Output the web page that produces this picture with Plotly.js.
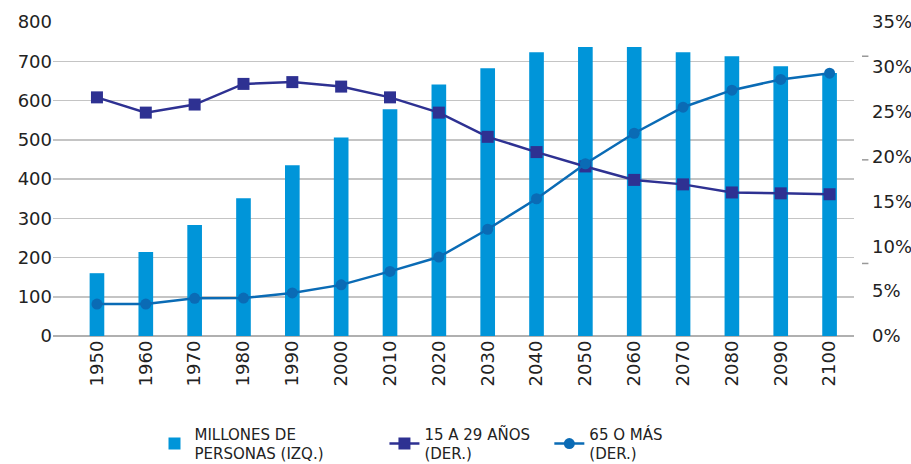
<!DOCTYPE html>
<html>
<head>
<meta charset="utf-8">
<script src="https://cdn.plot.ly/plotly-3.0.1.min.js"></script>
<style>html,body{margin:0;padding:0;background:#fff;}#chart{width:911px;height:464px;}</style>
</head>
<body>
<div id="chart"></div>
<script>
const years = ["1950","1960","1970","1980","1990","2000","2010","2020","2030","2040","2050","2060","2070","2080","2090","2100"];
const poblacion = [160, 214, 283, 351, 435, 506, 578, 641, 682, 723, 736, 736, 723, 713, 687, 670];
const jovenes = [26.6, 24.9, 25.8, 28.1, 28.3, 27.8, 26.6, 24.9, 22.2, 20.5, 18.9, 17.4, 16.9, 16.0, 15.9, 15.8];
const mayores = [3.56, 3.56, 4.2, 4.23, 4.8, 5.7, 7.2, 8.8, 11.9, 15.3, 19.2, 22.6, 25.5, 27.4, 28.6, 29.3];
const names = ["MILLONES DE<br>PERSONAS (IZQ.)", "15 A 29 AÑOS<br>(DER.)", "65 O MÁS<br>(DER.)"];

const xs = years.map((_, i) => i);
const font = "DejaVu Sans, sans-serif";

const traces = [
  {type: "bar", x: xs, y: poblacion, name: names[0], marker: {color: "#0095D9"}, width: 0.3, legend: "legend", hoverinfo: "y"},
  {type: "scatter", mode: "lines+markers", x: xs, y: jovenes, yaxis: "y2", name: names[1],
   line: {color: "#2E3192", width: 2.5}, marker: {symbol: "square", size: 12, color: "#2E3192"}, legend: "legend2"},
  {type: "scatter", mode: "lines+markers", x: xs, y: mayores, yaxis: "y2", name: names[2],
   line: {color: "#0A6BB5", width: 2.5}, marker: {symbol: "circle", size: 11, color: "#0A6BB5"}, legend: "legend3"}
];

const legendBase = {orientation: "h", yanchor: "top", xanchor: "left", yref: "container", xref: "container", y: 0.1,
  font: {family: font, size: 15, color: "#222"}, bgcolor: "rgba(0,0,0,0)", itemclick: false};

const layout = {
  width: 911, height: 464,
  margin: {l: 53, r: 57, t: 22, b: 128, autoexpand: false},
  paper_bgcolor: "#fff", plot_bgcolor: "#fff",
  font: {family: font, color: "#222"},
  showlegend: true,
  xaxis: {range: [-0.9, 15.5], tickvals: xs, ticktext: years, tickangle: -90, automargin: false,
    tickfont: {family: font, size: 18, color: "#222"}, showgrid: false, zeroline: false, ticks: "", fixedrange: true},
  yaxis: {range: [0, 800], dtick: 100, tickfont: {family: font, size: 18, color: "#222"}, automargin: false,
    gridcolor: "#c4c4c4", gridwidth: 1.5, zeroline: true, zerolinecolor: "#b0b0b0", zerolinewidth: 1.5, ticks: "", fixedrange: true},
  yaxis2: {range: [0, 35], dtick: 5, ticksuffix: "%", overlaying: "y", side: "right", showgrid: false, zeroline: false, automargin: false,
    tickfont: {family: font, size: 18, color: "#222"}, ticks: "", ticklabelstandoff: 17, fixedrange: true},
  legend: Object.assign({}, legendBase, {x: 0.1696}),
  legend2: Object.assign({}, legendBase, {x: 0.422}),
  legend3: Object.assign({}, legendBase, {x: 0.603}),
  shapes: [0.891, 0.561, 0.231].map(v => ({type: "line", xref: "paper", yref: "paper", x0: 1.01, x1: 1.018, y0: v, y1: v,
    line: {color: "#999", width: 1.5}}))
};

Plotly.newPlot("chart", traces, layout, {displayModeBar: false, staticPlot: true});
</script>
</body>
</html>
